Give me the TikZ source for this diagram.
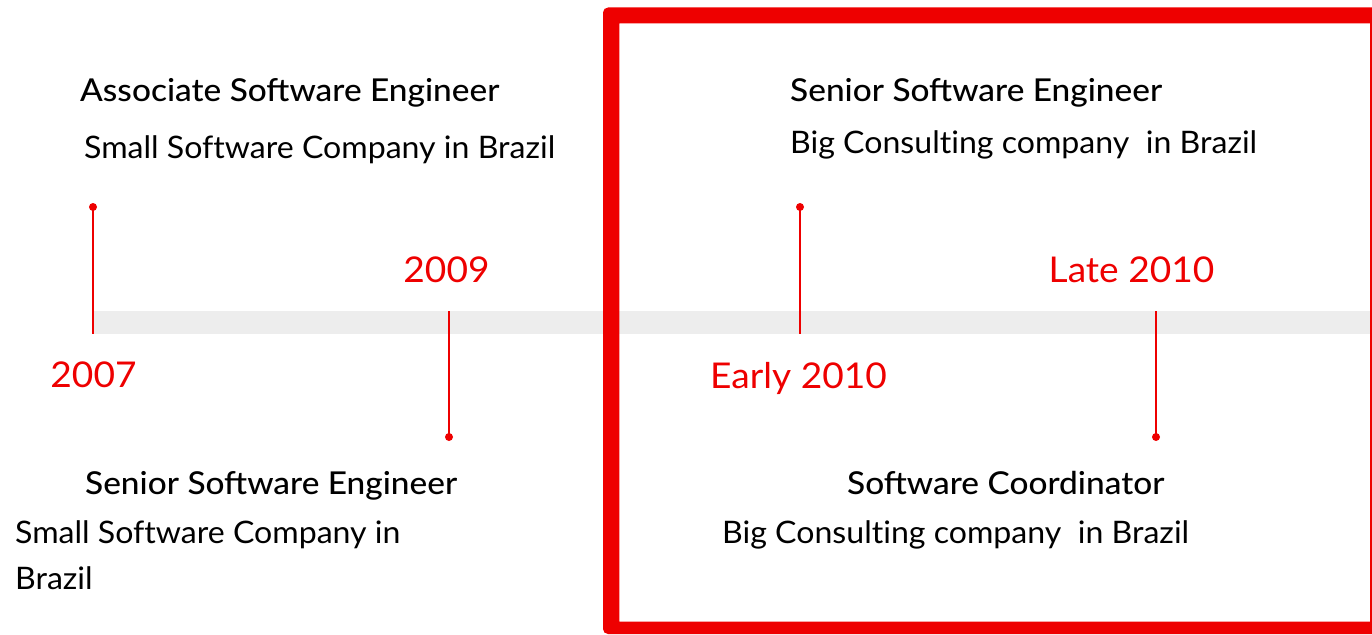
\documentclass[tikz,border=0pt]{standalone}
\usepackage{fontspec}
\setmainfont{Lato}
\newfontfamily\titlefont{Lato Medium}[FakeStretch=1.06]
\newfontfamily\subfont{Lato}[FakeStretch=1.035,Ligatures=NoCommon]
\newfontfamily\yearfont{Lato}[FakeStretch=1.045]
\definecolor{rhred}{HTML}{EE0000}
\definecolor{bargray}{HTML}{EDEDED}
\begin{document}
\begin{tikzpicture}[x=1pt,y=-1pt,
  title/.style={anchor=base west, inner sep=0pt, font=\titlefont\fontsize{31.5}{36}\selectfont},
  sub/.style={anchor=base west, inner sep=0pt, font=\subfont\fontsize{31}{36}\selectfont},
  year/.style={anchor=base, inner sep=0pt, text=rhred, font=\yearfont\fontsize{35.5}{40}\selectfont},
  tick/.style={draw=rhred, line width=2pt},
  dot/.style={circle, fill=rhred, inner sep=0pt, minimum size=8pt}]
\useasboundingbox (0,0) rectangle (1372,634);
% timeline bar
\fill[bargray] (93,311) rectangle (1372,334);
% highlight frame
\fill[rhred, even odd rule] [rounded corners=5pt] (603,7.5) rectangle (1390,634)
  [sharp corners] (619.3,23.3) rectangle (1370,621.7);
% ticks
\node[dot] (d07) at (93,207) {};
\coordinate (b07) at (93,334);
\draw[tick] (d07.center) -- (b07);
\node[dot] (d09) at (449,437) {};
\coordinate (b09) at (449,311);
\draw[tick] (b09) -- (d09.center);
\node[dot] (de10) at (800,207) {};
\coordinate (be10) at (800,334);
\draw[tick] (de10.center) -- (be10);
\node[dot] (dl10) at (1156,437) {};
\coordinate (bl10) at (1156,311);
\draw[tick] (bl10) -- (dl10.center);
% years
\node[year] (y07) at (93.5,387.5) {2007};
\node[year] (y09) at (446.5,282.3) {2009};
\node[year] (ye10) at (798.5,388) {Early 2010};
\node[year] (yl10) at (1131.5,282.3) {Late 2010};
% texts
\node[title] (t1) at (80,101.7) {Associate Software Engineer};
\node[sub] (s1) at (84,158.3) {Small Software Company in Brazil};
\node[title] (t2) at (85,494.3) {Senior Software Engineer};
\node[sub] (s2a) at (15,543.3) {Small Software Company in};
\node[sub] (s2b) at (15,589.3) {Brazil};
\node[title] (t3) at (790,101.3) {Senior Software Engineer};
\node[sub] (s3) at (790,153) {Big Consulting company\ \ in Brazil};
\node[title] (t4) at (847,494.3) {Software Coordinator};
\node[sub] (s4) at (722,543.3) {Big Consulting company\ \ in Brazil};
\end{tikzpicture}
\end{document}
